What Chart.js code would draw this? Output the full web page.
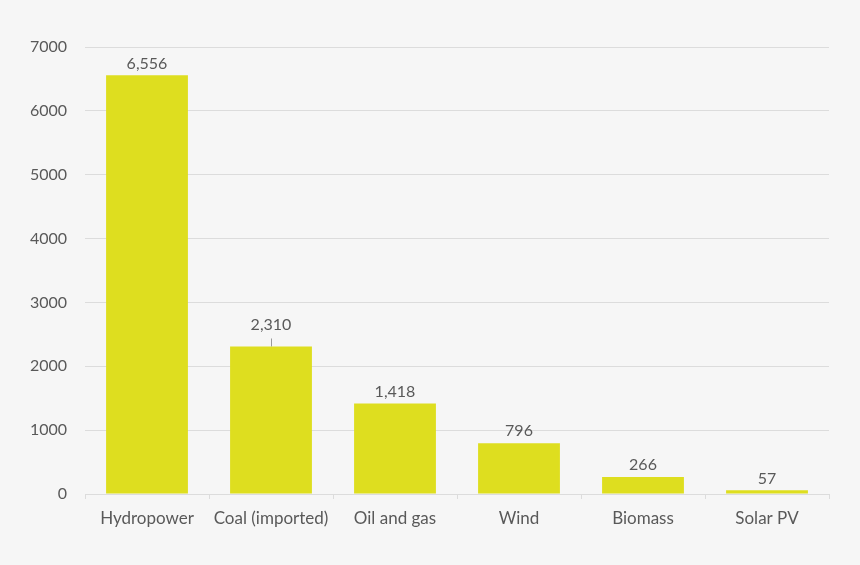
<!DOCTYPE html>
<html>
<head>
<meta charset="utf-8">
<script src="https://cdn.jsdelivr.net/npm/chart.js@4/dist/chart.umd.min.js"></script>
<style>
  html, body { margin: 0; padding: 0; background: #f6f6f6; }
  #wrap { width: 860px; height: 565px; }
</style>
</head>
<body>
<div id="wrap"><canvas id="chart"></canvas></div>
<script>
/* ── Data ───────────────────────────────────────── */
const categories = ['Hydropower', 'Coal (imported)', 'Oil and gas', 'Wind', 'Biomass', 'Solar PV'];
const capacity   = [6556, 2310, 1418, 796, 266, 57];
const yTicks     = [0, 1000, 2000, 3000, 4000, 5000, 6000, 7000];

/* ── Style ──────────────────────────────────────── */
const barColor  = '#dede1f';
const textColor = '#595959';
const gridColor = '#dcdcdc';
const fontFam   = 'Lato, "Noto Sans", sans-serif';

/* ── Value labels above bars (coal one sits higher with a leader) ── */
const valueLabels = {
  id: 'valueLabels',
  afterDatasetsDraw(chart, args, opts) {
    const ctx = chart.ctx;
    const meta = chart.getDatasetMeta(0);
    ctx.save();
    ctx.font = `16px ${fontFam}`;
    ctx.fillStyle = textColor;
    ctx.textAlign = 'center';
    ctx.textBaseline = 'bottom';
    meta.data.forEach((bar, i) => {
      const lift = opts.lift[i] || 0;
      const y = bar.y - 4 - lift;
      ctx.fillText(capacity[i].toLocaleString('en-US'), bar.x, y);
      if (lift) {
        ctx.strokeStyle = '#9a9a9a';
        ctx.lineWidth = 1;
        ctx.beginPath();
        ctx.moveTo(bar.x + 0.5, bar.y);
        ctx.lineTo(bar.x + 0.5, bar.y - lift + 2);
        ctx.stroke();
      }
    });
    ctx.restore();
  }
};

/* ── Chart ──────────────────────────────────────── */
new Chart(document.getElementById('chart').getContext('2d'), {
  type: 'bar',
  data: {
    labels: categories,
    datasets: [{
      data: capacity,
      backgroundColor: barColor,
      barPercentage: 0.66,
      categoryPercentage: 1,
    }]
  },
  options: {
    responsive: true,
    maintainAspectRatio: false,
    animation: false,
    layout: { padding: { top: 47, right: 31, bottom: 0, left: 0 } },
    plugins: {
      legend: { display: false },
      tooltip: { enabled: false },
      valueLabels: { lift: [0, 10, 0, 0, 0, 0] }
    },
    scales: {
      x: {
        afterFit: s => { s.height = 71; },
        grid: { drawOnChartArea: false, drawTicks: true, tickLength: 5, color: gridColor, offset: true },
        border: { color: gridColor },
        ticks: { color: textColor, font: { family: fontFam, size: 17 }, padding: 9 }
      },
      y: {
        min: 0,
        max: 7000,
        afterFit: s => { s.width = 85; },
        afterBuildTicks: s => { s.ticks = yTicks.map(v => ({ value: v })); },
        grid: { color: gridColor, drawTicks: false },
        border: { display: false },
        ticks: { color: textColor, font: { family: fontFam, size: 16 }, padding: 18, callback: v => String(v) }
      }
    }
  },
  plugins: [valueLabels]
});
</script>
</body>
</html>
